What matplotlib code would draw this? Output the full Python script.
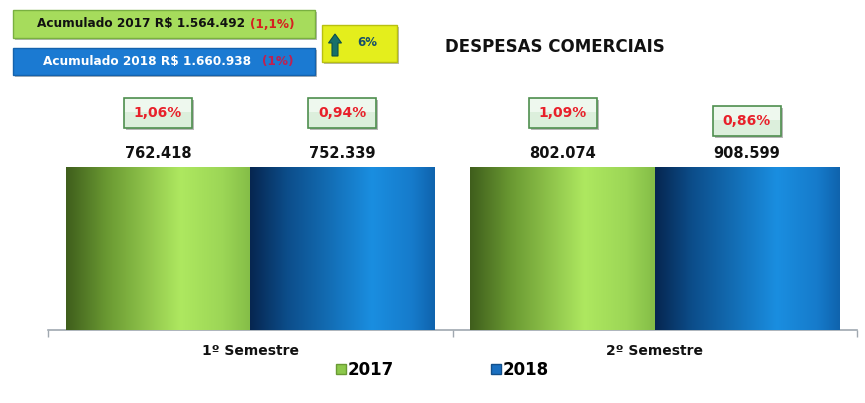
import numpy as np
import matplotlib
matplotlib.use("Agg")
import matplotlib.pyplot as plt
from matplotlib.patches import Rectangle, FancyArrow
from matplotlib.lines import Line2D
from matplotlib.colors import LinearSegmentedColormap

categories = ["1º Semestre", "2º Semestre"]
series_names = ["2017", "2018"]
values_2017 = [762418, 802074]
values_2018 = [752339, 908599]
labels_2017 = ["762.418", "802.074"]
labels_2018 = ["752.339", "908.599"]
pct_2017 = ["1,06%", "1,09%"]
pct_2018 = ["0,94%", "0,86%"]
acum_2017 = "Acumulado 2017 R$ 1.564.492"
acum_2017_pct = "(1,1%)"
acum_2018 = "Acumulado 2018 R$ 1.660.938"
acum_2018_pct = "(1%)"
growth = "6%"
title = "DESPESAS COMERCIAIS"

W, H = 865, 403
fig = plt.figure(figsize=(W / 100, H / 100), dpi=100)
fig.patch.set_facecolor("white")

# main axes (pixel layout)
ax_l, ax_r, ax_top, ax_bot = 48, 857, 167, 330
ax = fig.add_axes([ax_l / W, 1 - ax_bot / H, (ax_r - ax_l) / W, (ax_bot - ax_top) / H])
ymax = 700000  # axis max below data -> bars clipped at top, as in reference

x = np.arange(len(categories))
bw = 0.456
b1 = ax.bar(x - bw / 2, values_2017, bw, color="#8cc84b", zorder=2)
b2 = ax.bar(x + bw / 2, values_2018, bw, color="#1a6fc0", zorder=2)

green_cmap = LinearSegmentedColormap.from_list(
    "g", [(0, "#3f5e1c"), (0.22, "#6a9932"), (0.62, "#aee860"), (0.85, "#9cd656"), (1, "#84bd47")])
blue_cmap = LinearSegmentedColormap.from_list(
    "b", [(0, "#062650"), (0.2, "#0c4d8a"), (0.66, "#1a8ee0"), (0.88, "#167bcb"), (1, "#0f63ad")])
grad = np.linspace(0, 1, 256)[None, :]
for bars, cmap in ((b1, green_cmap), (b2, blue_cmap)):
    for p in bars:
        x0 = p.get_x()
        x1 = x0 + p.get_width()
        y1 = min(p.get_height(), ymax)
        im = ax.imshow(grad, cmap=cmap, extent=[x0, x1, 0, y1], aspect="auto",
                       zorder=3, interpolation="bicubic")
        im.set_clip_path(p)

ax.set_xlim(-0.5, len(categories) - 0.5)
ax.set_ylim(0, ymax)
for s in ("top", "right", "left"):
    ax.spines[s].set_visible(False)
ax.spines["bottom"].set_color("#a0a8b0")
ax.spines["bottom"].set_linewidth(1.2)
ax.set_yticks([])
ax.set_xticks(x)
ax.set_xticklabels(categories, fontsize=10, fontweight="bold", color="#111111")
ax.tick_params(axis="x", which="major", length=0, pad=10)
ax.set_xticks(np.arange(-0.5, len(categories), 1.0), minor=True)
ax.tick_params(axis="x", which="minor", length=5, color="#a0a8b0", width=1)
ax.set_facecolor("none")

# value labels
for xi, lab in zip(x - bw / 2, labels_2017):
    ax.annotate(lab, (xi, 1), xycoords=("data", "axes fraction"), xytext=(0, 4),
                textcoords="offset points", ha="center", va="bottom",
                fontsize=10.5, fontweight="bold", color="#111111")
for xi, lab in zip(x + bw / 2, labels_2018):
    ax.annotate(lab, (xi, 1), xycoords=("data", "axes fraction"), xytext=(0, 4),
                textcoords="offset points", ha="center", va="bottom",
                fontsize=10.5, fontweight="bold", color="#111111")

# overlay axes in pixel coordinates for decorations
ov = fig.add_axes([0, 0, 1, 1], zorder=5)
ov.set_xlim(0, W)
ov.set_ylim(H, 0)
ov.axis("off")
ov.patch.set_alpha(0)

def box(x0, y0, w, h, fc, ec, lw=1.0, shadow=True):
    if shadow:
        ov.add_patch(Rectangle((x0 + 2, y0 + 2), w, h, fc="#b8b8b8", ec="none", zorder=1))
    ov.add_patch(Rectangle((x0, y0), w, h, fc=fc, ec=ec, lw=lw, zorder=2))

# percentage boxes
pct_dy = [[0, 0], [0, 8]]
fig.canvas.draw()
for si, (pcts, offs) in enumerate(((pct_2017, -bw / 2), (pct_2018, bw / 2))):
    for ci, pct in enumerate(pcts):
        px, _ = ax.transData.transform((x[ci] + offs, 0))
        cy = 113 + pct_dy[ci][si]
        bw_px, bh_px = 68, 30
        box(px - bw_px / 2, cy - bh_px / 2, bw_px, bh_px, "#dcefdc", "#4f8f4f", lw=1.2)
        ov.add_patch(Rectangle((px - bw_px / 2 + 1, cy - bh_px / 2 + 1), bw_px - 2, bh_px / 2 - 2,
                               fc="#eef8ee", ec="none", zorder=2.5))
        ov.text(px, cy, pct, ha="center", va="center", fontsize=10, fontweight="bold",
                color="#e8202a", zorder=3)

# top summary boxes
box(13, 10, 302, 28, "#a6dc5c", "#79b040", lw=1.0)
ov.text(37, 24, acum_2017, ha="left", va="center", fontsize=8.7,
        fontweight="bold", color="#111111", zorder=3)
ov.text(250, 24, acum_2017_pct, ha="left", va="center", fontsize=8.7,
        fontweight="bold", color="#d62020", zorder=3)
box(13, 48, 302, 27, "#1b7ad2", "#1462ad", lw=1.0)
ov.text(43, 62, acum_2018, ha="left", va="center", fontsize=8.7,
        fontweight="bold", color="white", zorder=3)
ov.text(262, 62, acum_2018_pct, ha="left", va="center", fontsize=8.7,
        fontweight="bold", color="#c02050", zorder=3)

box(322, 25, 75, 37, "#e4ee1c", "#b8c010", lw=1.0)
ov.add_patch(FancyArrow(335, 56, 0, -22, width=6, head_width=13, head_length=9,
                        length_includes_head=True, fc="#17706a", ec="#0e4e48", lw=0.8, zorder=3))
ov.text(367, 42, growth, ha="center", va="center", fontsize=8.5, fontweight="bold",
        color="#17506a", zorder=3)

ov.text(445, 47, title, ha="left", va="center", fontsize=12, fontweight="bold",
        color="#111111", zorder=3)

# legend
handles = [Line2D([], [], ls="none", marker="s", ms=6.5, mfc="#8cc84b", mec="#6a9a35"),
           Line2D([], [], ls="none", marker="s", ms=6.5, mfc="#1a6fc0", mec="#124f8a")]
fig.legend(handles, series_names, loc="center", bbox_to_anchor=(442 / W, 1 - 370 / H),
           ncol=2, frameon=False, prop={"size": 12, "weight": "bold"},
           handletextpad=0.05, columnspacing=5.8, handlelength=0.7)

fig.savefig("out.png", dpi=100)
